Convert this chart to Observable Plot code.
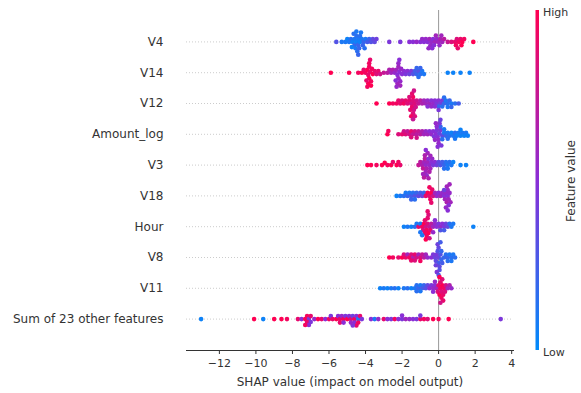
<!DOCTYPE html>
<html>
<head>
<meta charset="utf-8">
<script src="https://cdn.jsdelivr.net/npm/d3@7"></script>
<script src="https://cdn.jsdelivr.net/npm/@observablehq/plot@0.6"></script>
<style>
  body { margin: 0; background: #fff; font-family: "DejaVu Sans", sans-serif; }
  #wrap { position: relative; width: 581px; height: 393px; overflow: hidden; }
  #wrap > * { position: absolute; left: 0; }
  #xaxis g[aria-label="x-axis label"] text { font-size: 12px; }
</style>
</head>
<body>
<div id="wrap"></div>
<script>
const features = ["V4", "V14", "V12", "Amount_log", "V3", "V18", "Hour", "V8", "V11", "Sum of 23 other features"];
const xTicks = [-12, -10, -8, -6, -4, -2, 0, 2, 4];

const V4_shap = [-5.6,-5.3,-5.1,-5.0,-4.9,-4.8,-4.7,-4.6,-4.6,-4.5,-4.5,-4.4,-4.4,-4.3,-4.3,-4.2,-4.1,-4.0,-3.9,-3.8,-3.7,-3.6,-3.5,-3.4,-2.7,-2.1,-1.6,-1.4,-1.2,-1.0,-0.9,-0.8,-0.7,-0.6,-0.5,-0.4,-0.3,-0.2,-0.1,0.0,0.1,0.2,0.3,0.5,0.7,0.9,1.0,1.1,1.2,1.3,1.4,1.9,
  -4.55,-4.45,-4.35,-4.25,-4.65,-4.75,-4.15,-4.05,-4.5,-4.4,-0.45,-0.25,-0.15,0.05,0.15,-0.35,-0.55,0.95,1.05,1.25];
const V4_feat = [0.3,0.1,0.1,0.05,0.1,0.15,0.05,0.1,0.2,0.05,0.15,0.1,0.2,0.05,0.15,0.1,0.2,0.1,0.25,0.2,0.3,0.35,0.35,0.4,0.45,0.45,0.5,0.5,0.55,0.5,0.55,0.5,0.55,0.5,0.6,0.55,0.5,0.6,0.55,0.6,0.65,0.6,0.7,0.75,0.85,0.9,0.85,0.95,0.9,1.0,0.95,1.0,
  0.1,0.15,0.2,0.1,0.15,0.05,0.2,0.15,0.1,0.2,0.55,0.5,0.6,0.55,0.6,0.5,0.55,0.95,0.9,1.0];

const V14_shap = [-5.9,-4.9,-4.4,-4.2,-4.1,-4.0,-3.9,-3.85,-3.8,-3.8,-3.75,-3.7,-3.6,-3.5,-3.4,-3.3,-3.2,-3.0,-2.8,-2.7,-2.6,-2.5,-2.4,-2.3,-2.25,-2.2,-2.2,-2.15,-2.1,-2.0,-1.9,-1.8,-1.7,-1.6,-1.5,-1.4,-1.3,-1.2,-1.1,-1.0,-0.9,-0.8,0.5,0.8,1.2,1.7,
  -3.8,-3.85,-3.75,-3.9,-3.7,-3.95,-3.65,-2.2,-2.25,-2.15,-2.3,-2.1,-2.35,-2.05,-1.2,-1.1,-1.0];
const V14_feat = [1.0,1.0,0.95,1.0,0.9,0.95,1.0,0.9,1.0,0.95,0.9,0.95,1.0,0.9,0.85,0.9,0.8,0.75,0.7,0.65,0.6,0.65,0.55,0.6,0.5,0.55,0.6,0.5,0.55,0.5,0.5,0.45,0.5,0.4,0.45,0.3,0.25,0.2,0.3,0.15,0.1,0.1,0.05,0.05,0.05,0.05,
  0.95,1.0,0.9,0.95,1.0,0.9,0.95,0.55,0.6,0.5,0.55,0.6,0.5,0.55,0.2,0.15,0.2];

const V12_shap = [-3.4,-2.7,-2.5,-2.3,-2.2,-2.1,-2.0,-1.9,-1.8,-1.7,-1.6,-1.5,-1.45,-1.4,-1.4,-1.35,-1.3,-1.2,-1.1,-1.0,-0.9,-0.8,-0.7,-0.6,-0.5,-0.4,-0.3,-0.2,-0.1,0.0,0.1,0.2,0.0,0.2,0.3,0.4,0.5,0.6,0.7,0.9,1.1,
  -1.4,-1.45,-1.35,-1.5,-1.3,-1.4,-1.55,-1.25,-1.6,-0.6,-0.4,-0.2,0.0,0.3,0.5,0.7];
const V12_feat = [1.0,1.0,0.95,0.95,0.9,0.9,0.85,0.95,0.9,0.85,0.9,0.8,0.9,0.85,0.95,0.8,0.85,0.8,0.75,0.7,0.65,0.6,0.6,0.55,0.6,0.5,0.55,0.5,0.45,0.5,0.4,0.45,0.2,0.15,0.2,0.1,0.15,0.2,0.1,0.15,0.25,
  0.85,0.9,0.8,0.95,0.85,0.75,0.9,0.8,0.85,0.5,0.55,0.5,0.45,0.15,0.1,0.2];

const Amount_shap = [-2.8,-2.75,-2.2,-2.0,-1.9,-1.8,-1.7,-1.6,-1.5,-1.4,-1.3,-1.2,-1.1,-1.0,-0.9,-0.8,-0.7,-0.6,-0.5,-0.4,-0.3,-0.25,-0.2,-0.15,-0.1,-0.05,0.0,0.05,0.1,0.2,0.1,0.2,0.3,0.4,0.5,0.6,0.7,0.8,0.9,1.0,1.1,1.2,1.3,1.4,1.5,1.6,
  -0.1,0.0,0.05,-0.05,0.1,-0.15,0.15,0.3,0.5,0.9,1.2,-1.5,-1.2];
const Amount_feat = [1.0,0.95,0.85,0.9,0.8,0.85,0.75,0.8,0.9,0.75,0.8,0.7,0.75,0.7,0.65,0.6,0.55,0.6,0.5,0.55,0.5,0.45,0.55,0.5,0.45,0.5,0.55,0.4,0.45,0.35,0.2,0.15,0.1,0.2,0.1,0.15,0.05,0.1,0.15,0.05,0.1,0.05,0.1,0.05,0.1,0.05,
  0.5,0.55,0.45,0.5,0.4,0.55,0.45,0.1,0.15,0.1,0.05,0.85,0.8];

const V3_shap = [-3.9,-3.7,-3.4,-3.1,-2.95,-2.8,-2.6,-2.5,-2.3,-2.2,-2.1,-1.1,-1.0,-0.9,-0.85,-0.8,-0.75,-0.7,-0.65,-0.6,-0.55,-0.5,-0.45,-0.4,-0.35,-0.3,-0.2,-0.1,0.0,0.1,0.2,0.3,0.4,0.5,0.6,0.7,0.8,1.2,1.5,
  -0.7,-0.75,-0.65,-0.8,-0.6,-0.7,-0.55,-0.85,-0.5,-0.45,0.3,0.5];
const V3_feat = [1.0,1.0,0.95,1.0,1.0,0.95,1.0,0.9,1.0,0.95,0.9,0.75,0.7,0.65,0.75,0.6,0.7,0.55,0.65,0.6,0.5,0.55,0.6,0.5,0.55,0.45,0.5,0.4,0.35,0.3,0.25,0.2,0.15,0.1,0.15,0.1,0.05,0.05,0.05,
  0.6,0.65,0.55,0.7,0.6,0.5,0.65,0.6,0.65,0.6,0.15,0.1];

const V18_shap = [-2.3,-2.1,-1.9,-1.8,-1.7,-1.6,-1.5,-1.4,-1.3,-1.2,-1.1,-1.0,-0.9,-0.8,-0.7,-0.6,-0.5,-0.45,-0.4,-0.35,-0.3,-0.2,-0.1,0.0,0.1,0.2,0.3,0.35,0.4,0.45,0.5,0.55,0.6,0.65,
  0.5,0.45,0.55,0.4,0.6,0.5,-0.4,-0.5,-1.5,-1.3,0.3];
const V18_feat = [0.05,0.1,0.15,0.1,0.2,0.1,0.25,0.15,0.3,0.2,0.35,0.25,0.4,0.2,0.9,1.0,0.85,0.95,1.0,0.9,0.8,0.6,0.55,0.5,0.6,0.55,0.5,0.6,0.55,0.65,0.5,0.6,0.55,0.6,
  0.55,0.6,0.5,0.55,0.6,0.5,0.9,0.95,0.2,0.15,0.4];

const Hour_shap = [-1.9,-1.7,-1.5,-1.3,-1.2,-1.1,-1.0,-0.9,-0.85,-0.8,-0.75,-0.7,-0.65,-0.6,-0.55,-0.5,-0.45,-0.4,-0.3,-0.2,-0.1,0.0,0.1,0.2,0.3,0.4,0.5,0.6,0.7,0.8,1.9,
  -0.6,-0.65,-0.55,-0.7,-0.5,-0.6,-0.75,-0.3,-0.2,0.1,0.3,-1.0,-0.9];
const Hour_feat = [0.05,0.1,0.05,0.15,0.1,0.9,0.1,0.95,0.85,1.0,0.9,0.8,0.95,0.85,1.0,0.75,0.9,0.7,0.6,0.55,0.5,0.45,0.55,0.5,0.45,0.4,0.35,0.15,0.1,0.1,0.05,
  0.9,0.95,0.85,1.0,0.8,0.9,0.95,0.55,0.5,0.3,0.25,0.1,0.1];

const V8_shap = [-2.7,-2.5,-2.2,-2.0,-1.9,-1.8,-1.7,-1.6,-1.5,-1.4,-1.3,-1.2,-1.1,-1.0,-0.9,-0.8,-0.7,-0.6,-0.4,-0.3,-0.2,-0.15,-0.1,-0.05,0.0,0.0,0.05,0.1,0.15,0.2,0.3,0.4,0.5,0.6,0.7,0.8,0.9,
  0.0,0.05,-0.05,0.1,-0.1,0.0,0.15,-0.15,-1.5,-1.3,-1.0,0.5,0.7];
const V8_feat = [1.0,0.95,0.9,1.0,0.85,0.9,0.6,0.95,0.85,0.65,0.9,0.8,0.6,0.85,0.75,0.7,0.6,0.55,0.5,0.45,0.4,0.35,0.45,0.3,0.4,0.25,0.35,0.3,0.2,0.25,0.2,0.15,0.2,0.1,0.15,0.1,0.15,
  0.35,0.3,0.4,0.25,0.45,0.3,0.2,0.4,0.9,0.85,0.95,0.15,0.1];

const V11_shap = [-3.2,-3.0,-2.8,-2.6,-2.4,-2.2,-1.9,-1.7,-1.5,-1.3,-1.2,-1.1,-1.0,-0.9,-0.8,-0.7,-0.6,-0.5,-0.4,-0.3,-0.2,-0.1,-0.05,0.0,0.05,0.1,0.15,0.2,0.25,0.3,0.35,0.4,0.5,0.6,0.7,
  0.1,0.15,0.2,0.05,0.25,0.1,-0.3,-0.2,-1.0,-1.2];
const V11_feat = [0.05,0.1,0.05,0.1,0.15,0.05,0.1,0.15,0.05,0.1,0.15,0.2,0.1,0.25,0.2,0.3,0.35,0.5,0.45,0.55,0.5,0.6,0.85,0.9,1.0,0.95,0.85,1.0,0.9,0.95,0.85,0.8,0.6,0.65,0.55,
  0.9,0.95,0.85,1.0,0.9,0.8,0.5,0.55,0.1,0.15];

const Sum_shap = [-13.0,-10.1,-9.6,-9.0,-8.6,-8.3,-7.7,-7.5,-7.3,-7.2,-7.1,-7.0,-6.8,-6.6,-6.4,-6.2,-6.0,-5.9,-5.8,-5.6,-5.5,-5.4,-5.3,-5.2,-5.1,-5.0,-4.9,-4.8,-4.7,-4.6,-4.5,-4.4,-4.3,-4.2,-3.7,-3.5,-3.3,-3.0,-2.8,-2.6,-2.4,-2.2,-2.0,-1.8,-1.6,-1.4,-1.2,-1.0,-0.8,-0.6,-0.3,0.0,0.55,3.4,
  -7.2,-7.1,-7.3,-7.0,-4.6,-4.5,-4.7,-4.4,-4.8,-5.4,-5.2,-2.0,-1.0];
const Sum_feat = [0.05,1.0,0.05,1.0,1.0,0.95,0.9,0.5,1.0,0.95,0.45,0.9,0.55,1.0,0.9,0.5,0.95,0.45,0.9,1.0,0.5,0.9,0.55,0.95,0.45,1.0,0.5,0.85,0.4,0.95,0.5,0.1,0.9,0.45,0.5,0.1,0.55,0.9,0.5,0.45,0.95,0.5,0.45,0.6,0.55,0.5,0.45,0.9,0.95,0.85,1.0,0.95,1.0,0.45,
  0.9,0.5,0.95,0.45,0.5,0.9,0.45,0.95,0.55,0.9,0.5,0.5,0.45];

const series = [
  [features[0], V4_shap, V4_feat],
  [features[1], V14_shap, V14_feat],
  [features[2], V12_shap, V12_feat],
  [features[3], Amount_shap, Amount_feat],
  [features[4], V3_shap, V3_feat],
  [features[5], V18_shap, V18_feat],
  [features[6], Hour_shap, Hour_feat],
  [features[7], V8_shap, V8_feat],
  [features[8], V11_shap, V11_feat],
  [features[9], Sum_shap, Sum_feat]
];
const points = series.flatMap(([f, s, v]) => s.map((x, i) => ({feature: f, shap: x, value: v[i]})));

const xDomain = [-13.8, 4.1];
const marginLeft = 186, marginRight = 68;
const colorRange = ["#008bfb", "#8a2ed6", "#ff0052"];
const wrap = document.getElementById("wrap");

// zero line spanning the whole plotting area
const zero = Plot.plot({
  width: 581, height: 350, marginTop: 10, marginBottom: 0, marginLeft, marginRight,
  style: {background: "transparent"},
  x: {domain: xDomain, axis: null},
  marks: [Plot.ruleX([0], {stroke: "#999999", strokeWidth: 1})]
});
zero.style.top = "0px";
wrap.appendChild(zero);

const main = Plot.plot({
  width: 581,
  height: 350,
  marginTop: 10,
  marginBottom: 0,
  marginLeft,
  marginRight,
  style: {fontFamily: "DejaVu Sans, sans-serif", fontSize: "12px", color: "#333", background: "transparent"},
  x: {domain: xDomain, axis: null},
  y: {domain: [-1, 1], axis: null},
  fy: {domain: features, round: false, paddingInner: 0, paddingOuter: 0.52, axis: "left", label: null, tickSize: 0, tickPadding: 23},
  color: {type: "linear", domain: [0, 0.5, 1], range: colorRange},
  marks: [
    Plot.ruleY(features, {fy: d => d, y: 0, stroke: "#cccccc", strokeWidth: 1, strokeDasharray: "1,2"}),
    Plot.dot(points, Plot.dodgeY({anchor: "middle", x: "shap", fy: "feature", fill: "value", r: 2.3, padding: -1.1}))
  ]
});
main.style.top = "0px";
wrap.appendChild(main);

const axis = Plot.plot({
  width: 581,
  height: 44,
  marginTop: 0,
  marginBottom: 43,
  marginLeft,
  marginRight,
  style: {fontFamily: "DejaVu Sans, sans-serif", fontSize: "11px", color: "#333", background: "transparent", overflow: "visible"},
  x: {domain: xDomain, ticks: xTicks, tickFormat: d3.format("d"), tickSize: 4, tickPadding: 5, line: true,
      label: "SHAP value (impact on model output)", labelAnchor: "center", labelArrow: "none", labelOffset: 35},
  marks: []
});
axis.id = "xaxis";
axis.style.top = "349px";
wrap.appendChild(axis);

// colour bar
const svg = d3.create("svg").attr("width", 581).attr("height", 393).style("top", "0px").style("pointer-events", "none")
  .style("font-family", "DejaVu Sans, sans-serif");
const grad = svg.append("defs").append("linearGradient").attr("id", "cb").attr("x1", 0).attr("x2", 0).attr("y1", 1).attr("y2", 0);
colorRange.forEach((c, i) => grad.append("stop").attr("offset", i / (colorRange.length - 1)).attr("stop-color", c));
svg.append("rect").attr("x", 535.5).attr("y", 10).attr("width", 3.5).attr("height", 340).attr("fill", "url(#cb)");
svg.append("text").attr("x", 543).attr("y", 16).attr("font-size", 11).attr("fill", "#333").text("High");
svg.append("text").attr("x", 543).attr("y", 356).attr("font-size", 11).attr("fill", "#333").text("Low");
svg.append("text").attr("transform", "translate(575,181) rotate(-90)").attr("text-anchor", "middle")
  .attr("font-size", 12).attr("fill", "#333").text("Feature value");
wrap.appendChild(svg.node());
</script>
</body>
</html>
